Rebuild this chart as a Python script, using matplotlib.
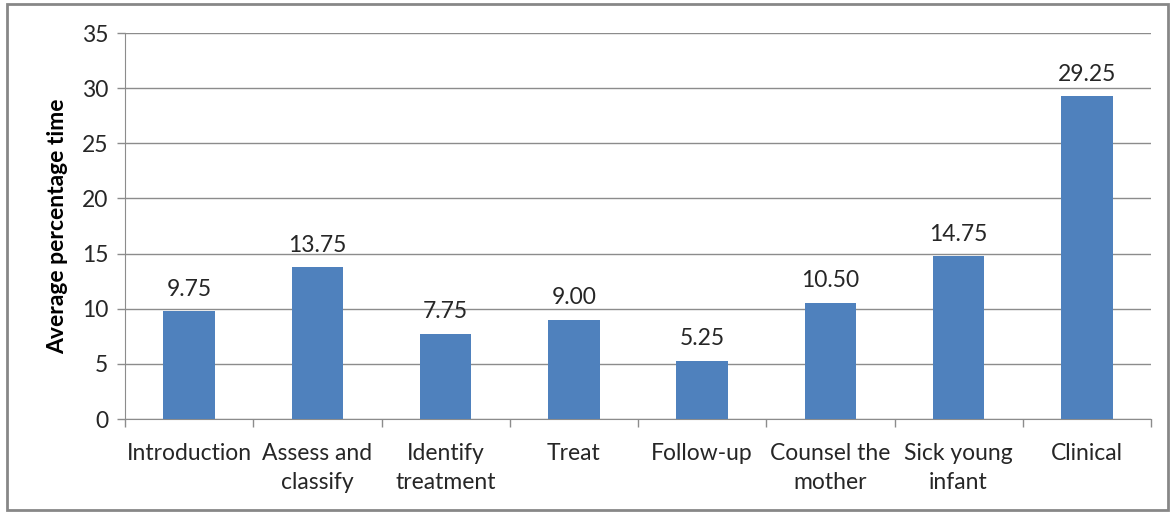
import matplotlib
matplotlib.use("Agg")
import matplotlib.pyplot as plt
from matplotlib.patches import Rectangle

# chart data
categories = ["Introduction", "Assess and\nclassify", "Identify\ntreatment", "Treat",
              "Follow-up", "Counsel the\nmother", "Sick young\ninfant", "Clinical"]
values = [9.75, 13.75, 7.75, 9.00, 5.25, 10.50, 14.75, 29.25]
yticks = [0, 5, 10, 15, 20, 25, 30, 35]

plt.rcParams['font.family'] = ['Lato', 'DejaVu Sans']
text_color = "#262626"
grid_color = "#8c8c8c"
fs = 16.5

fig = plt.figure(figsize=(11.76, 5.12), dpi=100)
ax = fig.add_axes([125 / 1176, 1 - 419 / 512, (1151 - 125) / 1176, (419 - 33) / 512])

x = list(range(len(categories)))
bars = ax.bar(x, values, width=0.4, color="#4F81BD", zorder=3)

for xi, v in zip(x, values):
    ax.annotate(f"{v:.2f}", (xi, v), xytext=(0, 8.5), textcoords="offset points",
                ha="center", va="bottom", fontsize=fs, color=text_color)

ax.set_xlim(-0.5, len(categories) - 0.5)
ax.set_ylim(0, 35)
ax.set_yticks(yticks)
ax.set_yticklabels([str(t) for t in yticks], fontsize=fs, color=text_color)
ax.yaxis.grid(True, color=grid_color, linewidth=1, zorder=0)

# category ticks sit between the bars, labels centred under them
ax.set_xticks([i - 0.5 for i in range(len(categories) + 1)])
ax.set_xticklabels([])
ax.set_xticks(x, minor=True)
ax.set_xticklabels(categories, minor=True, fontsize=fs, color=text_color, linespacing=1.45)
ax.tick_params(axis="x", which="major", length=6, color=grid_color, width=1)
ax.tick_params(axis="x", which="minor", length=0, pad=17.5, labelsize=fs)
ax.tick_params(axis="y", length=6, color=grid_color, width=1, pad=6)

for side in ["top", "right"]:
    ax.spines[side].set_visible(False)
ax.spines["left"].set_color(grid_color)
ax.spines["bottom"].set_color(grid_color)

ax.set_ylabel("Average percentage time", fontsize=fs, fontweight="bold", color="black", labelpad=10)

# outer chart frame
fig.patches.append(Rectangle((7 / 1176, 2 / 512), 1161 / 1176, 506 / 512,
                             transform=fig.transFigure, fill=False,
                             edgecolor="#878787", linewidth=2))

fig.savefig("out.png", dpi=100)
